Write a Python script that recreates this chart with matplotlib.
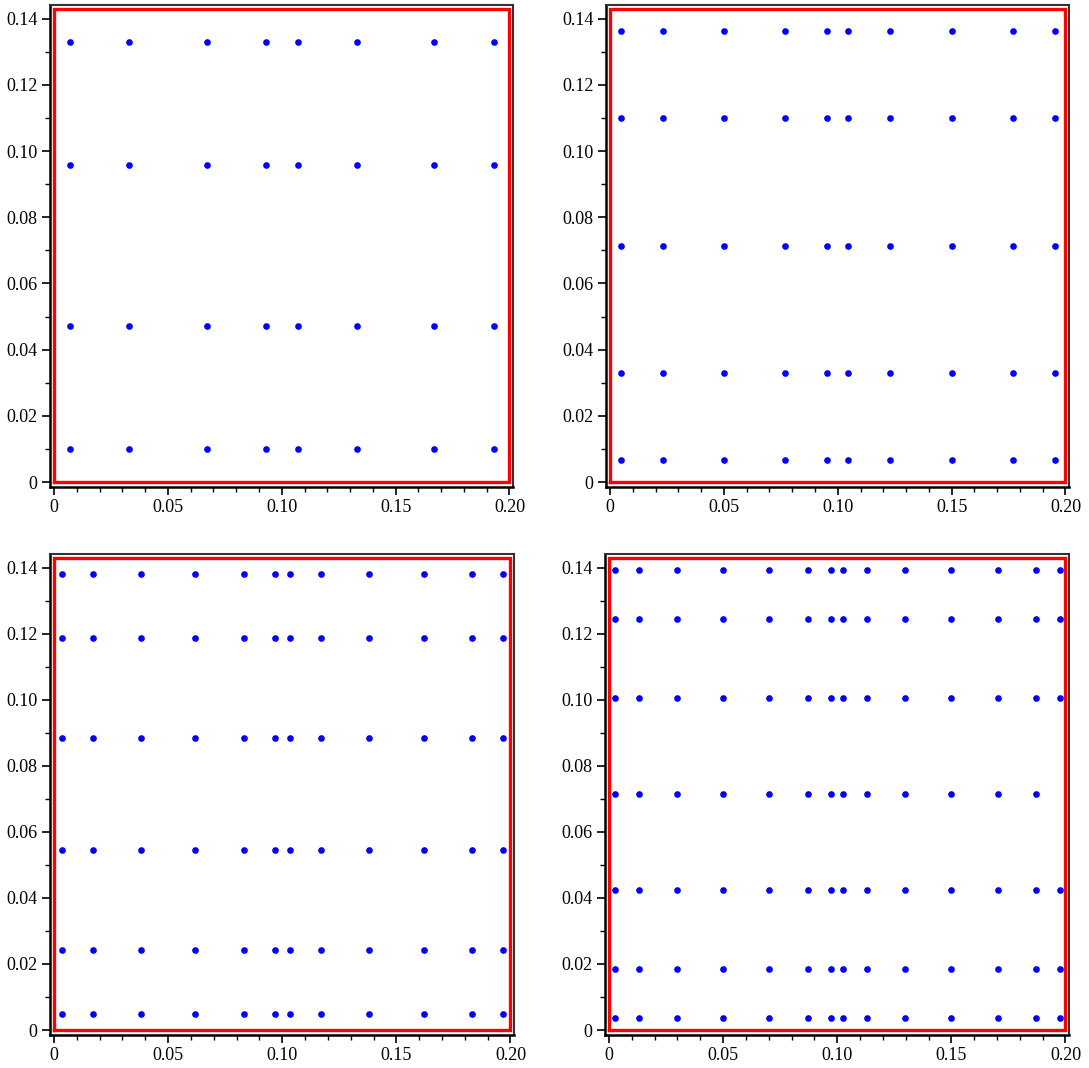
import matplotlib
matplotlib.use("Agg")
import matplotlib.pyplot as plt
from matplotlib.ticker import MultipleLocator, FixedLocator, FixedFormatter

plt.rcParams['font.family'] = ['Liberation Serif', 'DejaVu Serif']

# Domain of the quadrature grids
domain_x = [0.0, 0.2]
domain_y = [0.0, 0.142857]

# Panel 1: 4-point nodes on two sub-intervals in x
p1_x = [0.00694, 0.03300, 0.06700, 0.09306, 0.10694, 0.13300, 0.16700, 0.19306]
p1_y = [0.00992, 0.04714, 0.09571, 0.13294]

# Panel 2: 5-point nodes
p2_x = [0.00469, 0.02308, 0.05000, 0.07692, 0.09531,
        0.10469, 0.12308, 0.15000, 0.17692, 0.19531]
p2_y = [0.00670, 0.03297, 0.07143, 0.10989, 0.13616]

# Panel 3: 6-point nodes
p3_x = [0.00338, 0.01694, 0.03807, 0.06193, 0.08306, 0.09662,
        0.10338, 0.11694, 0.13807, 0.16193, 0.18306, 0.19662]
p3_y = [0.00482, 0.02420, 0.05438, 0.08847, 0.11866, 0.13803]

# Panel 4: 7-point nodes
p4_x = [0.00254, 0.01292, 0.02971, 0.05000, 0.07029, 0.08708, 0.09746,
        0.10254, 0.11292, 0.12971, 0.15000, 0.17029, 0.18708, 0.19746]
p4_y = [0.00364, 0.01846, 0.04244, 0.07143, 0.10042, 0.12440, 0.13922]
# points absent from the grid of panel 4, as (x, y)
p4_missing = [(0.19746, 0.07143)]

x_ticks = [0.0, 0.05, 0.10, 0.15, 0.20]
x_labels = ["0", "0.05", "0.10", "0.15", "0.20"]
y_ticks = [0.0, 0.02, 0.04, 0.06, 0.08, 0.10, 0.12, 0.14]
y_labels = ["0", "0.02", "0.04", "0.06", "0.08", "0.10", "0.12", "0.14"]

W, H = 1089, 1068
fig = plt.figure(figsize=(W / 100, H / 100), dpi=100)

# axes boxes in pixels: left, right, top, bottom
boxes = [(50, 513, 5, 487), (606, 1069, 5, 487),
         (50, 514, 554, 1035), (605, 1069, 554, 1035)]
panels = [(p1_x, p1_y, []), (p2_x, p2_y, []),
          (p3_x, p3_y, []), (p4_x, p4_y, p4_missing)]

for (l, r, t, b), (gx, gy, missing) in zip(boxes, panels):
    ax = fig.add_axes([l / W, (H - b) / H, (r - l) / W, (b - t) / H])
    xs, ys = [], []
    for yv in gy:
        for xv in gx:
            if (xv, yv) in missing:
                continue
            xs.append(xv)
            ys.append(yv)
    rx = [domain_x[0], domain_x[1], domain_x[1], domain_x[0], domain_x[0]]
    ry = [domain_y[0], domain_y[0], domain_y[1], domain_y[1], domain_y[0]]
    ax.plot(rx, ry, color=(1, 0, 0), lw=2.4, solid_joinstyle='miter', zorder=2)
    ax.plot(xs, ys, 'o', color=(0, 0, 1), ms=4.8, mec='none', zorder=3)

    ax.set_xlim(-0.00176, 0.20154)
    ax.set_ylim(-0.00151, 0.14416)

    ax.xaxis.set_major_locator(FixedLocator(x_ticks))
    ax.xaxis.set_major_formatter(FixedFormatter(x_labels))
    ax.yaxis.set_major_locator(FixedLocator(y_ticks))
    ax.yaxis.set_major_formatter(FixedFormatter(y_labels))
    ax.xaxis.set_minor_locator(MultipleLocator(0.01))
    ax.yaxis.set_minor_locator(MultipleLocator(0.01))
    ax.tick_params(which='major', direction='out', length=6, width=1.2,
                   labelsize=13, pad=3, colors='black', top=False, right=False)
    ax.tick_params(which='minor', direction='out', length=3.5, width=1.0,
                   top=False, right=False)
    for side in ['left', 'bottom']:
        ax.spines[side].set_linewidth(1.8)
        ax.spines[side].set_color('black')
    for side in ['top', 'right']:
        ax.spines[side].set_linewidth(1.5)
        ax.spines[side].set_color('#333333')

fig.savefig("out.png", dpi=100)
